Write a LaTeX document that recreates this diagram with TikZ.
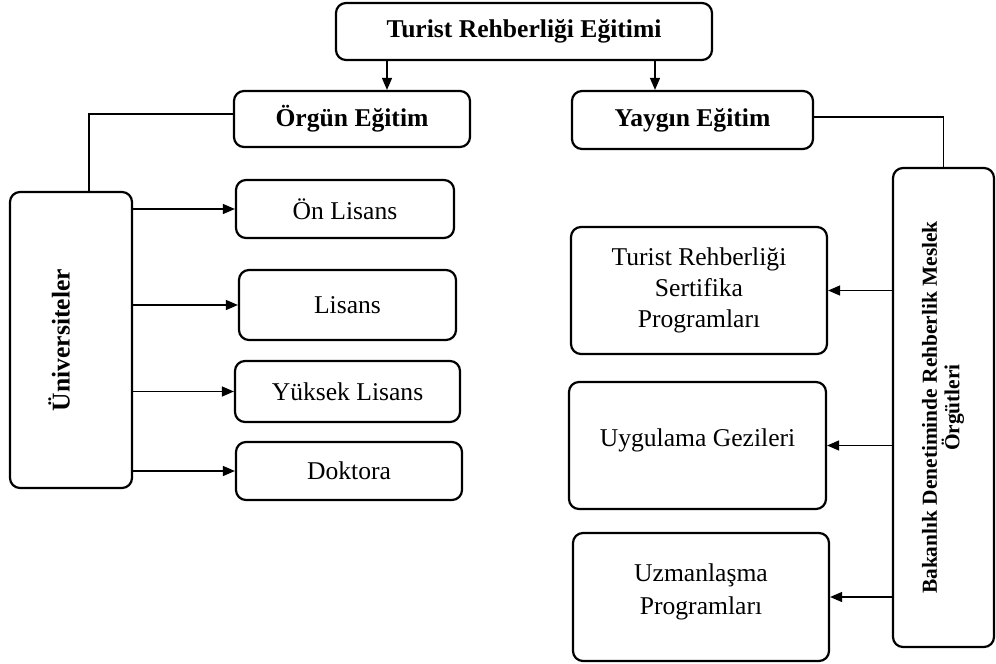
\documentclass[tikz,border=0pt]{standalone}
\usepackage{fontspec}
\setmainfont{Liberation Serif}
\usetikzlibrary{arrows.meta}

\begin{document}
\begin{tikzpicture}[x=0.5pt, y=-0.5pt,
  box/.style={draw, rounded corners=5pt, line width=1.1pt, align=center,
    font=\fontsize{12.8}{15.5}\selectfont, inner sep=2pt},
  head/.style={box, font=\fontsize{12.8}{15.5}\selectfont\bfseries},
  link/.style={line width=0.7pt},
  arr/.style={link, -{Triangle[length=6pt,width=5pt]}}]
\useasboundingbox (0,0) rectangle (996,664);
% top level
\node[head, minimum width=188pt, minimum height=28.5pt] (top) at (524,31.5){Turist Rehberliği Eğitimi};
\node[head, minimum width=118pt, minimum height=28pt] (orgun) at (352,119){Örgün Eğitim};
\node[head, minimum width=120.5pt, minimum height=29pt] (yaygin) at (692.5,120){Yaygın Eğitim};
\draw[arr] ([xshift=-68.5pt]top.south) -- ([xshift=-68.5pt]top.south |- orgun.north);
\draw[arr] ([xshift=65.5pt]top.south) -- ([xshift=65.5pt]top.south |- yaygin.north);
% formal education (left)
\node[head, minimum width=61pt, minimum height=148pt] (univ) at (71,340){\rotatebox{90}{Üniversiteler}\hspace*{12pt}};
\draw[link] ([yshift=2.5pt]orgun.west) -| ([xshift=9pt]univ.north);
\node[box, minimum width=109pt, minimum height=29pt] (onl) at (345,209){Ön Lisans};
\node[box, minimum width=108.5pt, minimum height=35pt] (lis) at (347.5,305){Lisans};
\node[box, minimum width=112.5pt, minimum height=30.5pt] (yl) at (347.5,391.5){Yüksek Lisans};
\node[box, minimum width=113pt, minimum height=29pt] (dok) at (349,471){Doktora};
\foreach \n in {onl,lis,yl,dok}
  \draw[arr] (univ.east |- \n.west) -- (\n.west);
% non-formal education (right)
\node[head, font=\fontsize{10.7}{11.5}\selectfont\bfseries, minimum width=50.5pt, minimum height=239.5pt] (bak) at (943.5,407.5)
  {\rotatebox{90}{\begin{tabular}{@{}c@{}}Bakanlık Denetiminde Rehberlik Meslek\\[-1pt] Örgütleri\end{tabular}}};
\draw[link] ([yshift=1.5pt]yaygin.east) -| (bak.north);
\node[box, minimum width=128pt, minimum height=63.5pt] (trs) at (699,290.5){Turist Rehberliği\\ Sertifika\\ Programları};
\node[box, minimum width=128.5pt, minimum height=63.5pt] (uyg) at (697.5,445.5){Uygulama Gezileri\\[-7.5pt]};
\node[box, minimum width=128pt, minimum height=64pt] (uzm) at (701,597){Uzmanlaşma\\[1pt] Programları\\[-7.5pt]};
\foreach \n in {trs,uyg,uzm}
  \draw[arr] (bak.west |- \n.east) -- (\n.east);
\end{tikzpicture}
\end{document}
